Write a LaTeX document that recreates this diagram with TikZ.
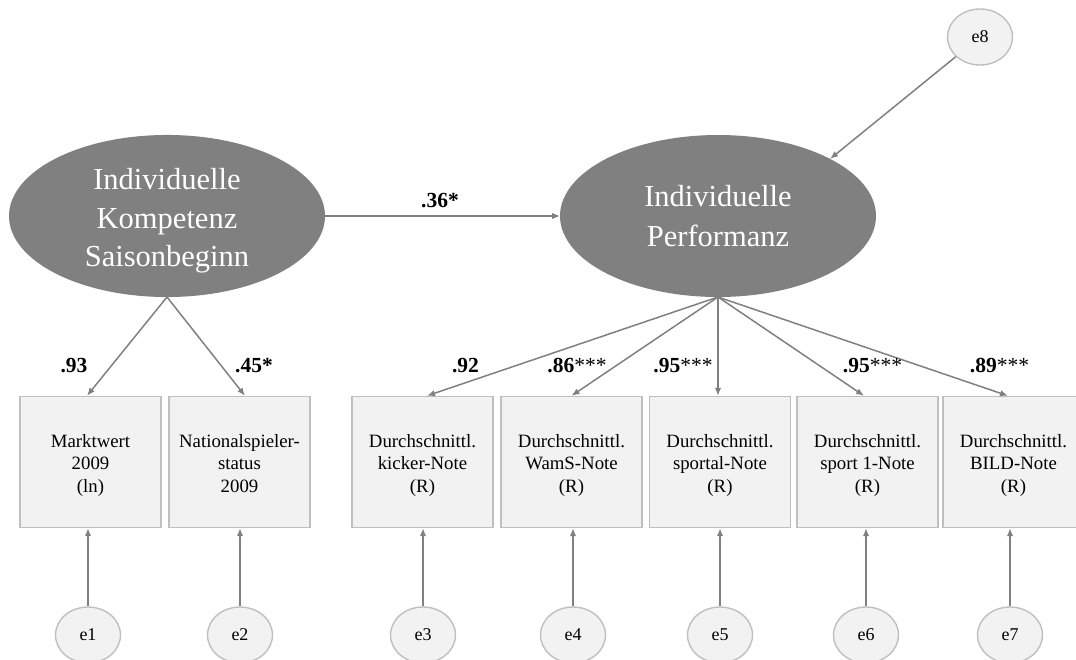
\documentclass[tikz,border=0pt]{standalone}
\usepackage{fontspec}
\setmainfont{Liberation Serif}
\usetikzlibrary{shapes.geometric,arrows.meta}

\definecolor{latfill}{RGB}{128,128,128}
\definecolor{obsfill}{RGB}{242,242,242}
\definecolor{obsline}{RGB}{191,191,191}
\definecolor{arrline}{RGB}{128,128,128}

% struts that fix the height of the first and the depth of the last text line
\newcommand{\firstln}[1]{\rule{0pt}{#1}}
\newcommand{\lastln}[1]{\rule[-#1]{0pt}{#1}}

\begin{document}
\begin{tikzpicture}[x=1pt,y=-1pt,
  latent/.style={ellipse, fill=latfill, draw=none, minimum width=316pt,
    minimum height=162pt, inner sep=0pt, outer sep=0pt, text=white,
    align=center},
  obs/.style={rectangle, fill=obsfill, draw=obsline, line width=1.4pt,
    minimum width=141pt, minimum height=131pt, inner sep=0pt, align=center,
    font=\fontsize{18.8}{22.5}\selectfont},
  err/.style={ellipse, fill=obsfill, draw=obsline, line width=1.4pt,
    minimum width=65pt, minimum height=56pt, inner sep=0pt,
    font=\fontsize{18}{20}\selectfont},
  conn/.style={draw=arrline, line width=1.5pt,
    -{Latex[length=8pt,width=6.5pt]}},
  coef/.style={font=\fontsize{21.5}{24}\selectfont\bfseries, anchor=base,
    inner sep=0pt},
]
\useasboundingbox (0,0) rectangle (1076,659);

% latent variables
\node[latent, font=\fontsize{30.5}{38.3}\selectfont] (komp) at (167,216)
  {\firstln{31pt}Individuelle\\Kompetenz\\Saisonbeginn\lastln{7pt}};
\node[latent, font=\fontsize{30.5}{40}\selectfont] (perf) at (718,216)
  {\firstln{22pt}Individuelle\\Performanz};

% indicators
\node[obs] (markt) at (90.5,462)
  {\firstln{19pt}Marktwert\\2009\\(ln)\lastln{4pt}};
\node[obs] (nat) at (239.5,462)
  {\firstln{19pt}Nationalspieler-\\status\\2009\lastln{4pt}};
\node[obs] (kick) at (422.5,462)
  {\firstln{19pt}Durchschnittl.\\kicker-Note\\(R)\lastln{4pt}};
\node[obs] (wams) at (571.5,462)
  {\firstln{19pt}Durchschnittl.\\WamS-Note\\(R)\lastln{4pt}};
\node[obs] (sportal) at (720,462)
  {\firstln{19pt}Durchschnittl.\\sportal-Note\\(R)\lastln{4pt}};
\node[obs] (sporteins) at (867.5,462)
  {\firstln{19pt}Durchschnittl.\\sport 1-Note\\(R)\lastln{4pt}};
\node[obs] (bild) at (1013.5,462)
  {\firstln{19pt}Durchschnittl.\\BILD-Note\\(R)\lastln{4pt}};

% error terms
\node[err] (e1) at (88,635) {e1};
\node[err] (e2) at (240,635) {e2};
\node[err] (e3) at (423,635) {e3};
\node[err] (e4) at (573,635) {e4};
\node[err] (e5) at (720,635) {e5};
\node[err] (e6) at (866,635) {e6};
\node[err] (e7) at (1010,635) {e7};
\node[err] (e8) at (980,37) {e8};

% structural path
\draw[conn] (komp) -- (perf);
\draw[conn] (e8) -- (perf.27);

% loadings
\draw[conn] (komp.south) -- ([xshift=-3.5pt]markt.north);
\draw[conn] (komp.south) -- ([xshift=5.5pt]nat.north);
\draw[conn] (perf.south) -- ([xshift=4.5pt]kick.north);
\draw[conn] (perf.south) -- (wams.north);
\draw[conn] (perf.south) -- (perf.south |- sportal.north);
\draw[conn] (perf.south) -- ([xshift=-3.5pt]sporteins.north);
\draw[conn] (perf.south) -- ([xshift=-5.5pt]bild.north);

% residual paths
\draw[conn] (e1) -- (e1 |- markt.south);
\draw[conn] (e2) -- (e2 |- nat.south);
\draw[conn] (e3) -- (e3 |- kick.south);
\draw[conn] (e4) -- (e4 |- wams.south);
\draw[conn] (e5) -- (e5 |- sportal.south);
\draw[conn] (e6) -- (e6 |- sporteins.south);
\draw[conn] (e7) -- (e7 |- bild.south);

% coefficients
\node[coef] (c36) at (440,207) {.36*};
\node[coef] (c93) at (74,372) {.93};
\node[coef] (c45) at (254,372) {.45*};
\node[coef] (c92) at (465.5,372) {.92};
\node[coef] (c86) at (577,372) {.86\textmd{***}};
\node[coef] (c95a) at (683,372) {.95\textmd{***}};
\node[coef] (c95b) at (872.5,372) {.95\textmd{***}};
\node[coef] (c89) at (999.5,372) {.89\textmd{***}};
\end{tikzpicture}
\end{document}
